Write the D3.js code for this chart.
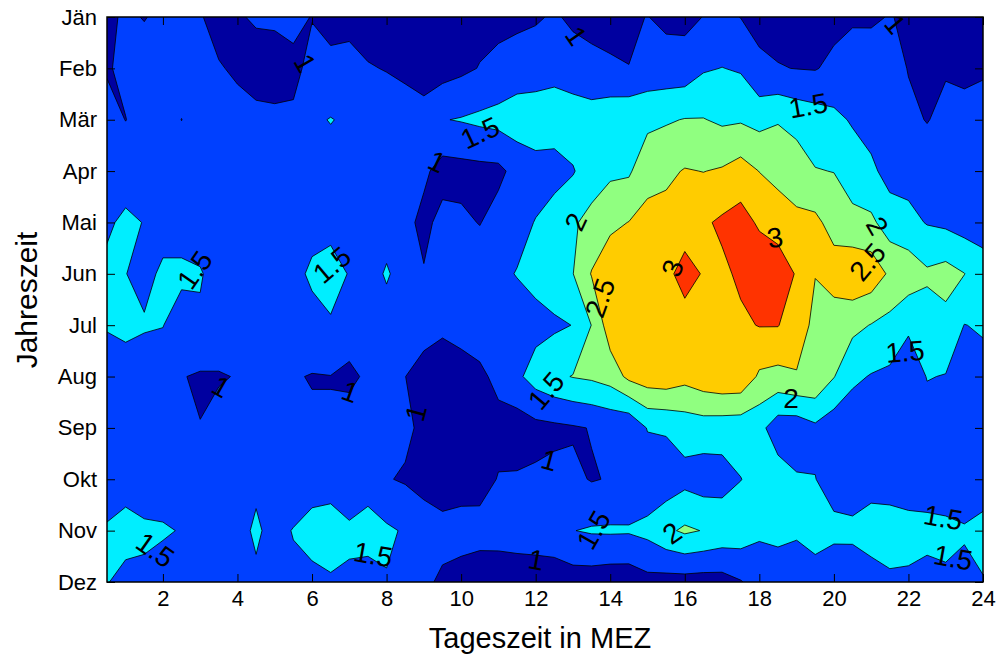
<!DOCTYPE html>
<html><head><meta charset="utf-8">
<script src="https://cdn.jsdelivr.net/npm/d3@7"></script>
<style>
body{margin:0;background:#fff}
svg{display:block}
text{font-family:"Liberation Sans",Arial,Helvetica,sans-serif}
</style>
</head><body>
<svg id="chart" width="998" height="657"></svg>
<script>
// ---- data ----
const months = ["Jän","Feb","Mär","Apr","Mai","Jun","Jul","Aug","Sep","Okt","Nov","Dez"];
const hours = [0.5,1,1.5,2,2.5,3,3.5,4,4.5,5,5.5,6,6.5,7,7.5,8,8.5,9,9.5,10,10.5,11,11.5,12,
               12.5,13,13.5,14,14.5,15,15.5,16,16.5,17,17.5,18,18.5,19,19.5,20,20.5,21,21.5,22,22.5,23,23.5,24];
const xTickValues = [2,4,6,8,10,12,14,16,18,20,22,24];
const levels = [1,1.5,2,2.5,3];
const levelColors = ["#0000A0","#0040FF","#00EEFF","#90FF80","#FFCC00","#FF3300"];

const jan = [0.9,1.07,0.98,1.1,1.15,1.02,0.9,0.96,1.05,1.08,1.15,0.98,0.85,0.8,0.8,0.8,
  0.8,0.8,0.8,0.85,0.85,0.85,0.88,0.95,1.05,0.92,0.88,0.85,0.94,1.01,0.9,0.88,
  1.01,1.1,0.99,0.9,0.85,0.85,0.85,0.85,0.92,0.94,1.02,0.93,0.8,0.8,0.8,0.8];
const feb = [0.95,1.12,1.2,1.2,1.2,1.15,1.02,0.96,0.82,0.78,0.86,1.16,1.12,1.22,1.03,0.98,
  0.9,0.85,0.8,0.9,1.02,1.14,1.25,1.25,1.3,1.2,1.11,1.06,1.005,1.2,1.2,1.21,
  1.45,1.51,1.45,1.07,1.02,0.99,0.97,1.12,1.3,1.22,1.2,0.98,0.85,0.96,0.9,0.95];
const mar = [1.2,0.99,1.2,1.2,0.995,1.2,1.25,1.09,1.11,1.1,1.09,1.42,1.52,1.42,1.3,1.25,
  1.23,1.13,1.48,1.53,1.6,1.66,1.75,1.8,1.85,1.8,1.75,1.85,1.9,1.87,1.95,2.02,
  2.02,1.92,1.95,1.85,1.97,1.84,1.75,1.62,1.45,1.3,1.25,1.1,0.98,1.12,1.15,1.17];
const apr = [1.3,1.35,1.3,1.25,1.25,1.25,1.3,1.25,1.25,1.25,1.25,1.3,1.3,1.3,1.25,1.2,
  1.2,1.1,0.8,0.83,0.86,0.88,1.17,1.3,1.23,1.46,1.8,1.9,1.93,2.35,2.4,2.53,
  2.49,2.55,2.71,2.49,2.3,2.25,2.02,1.99,1.76,1.6,1.32,1.3,1.25,1.25,1.2,1.25];
const mai = [1.455,1.56,1.49,1.3,1.3,1.25,1.25,1.25,1.25,1.25,1.25,1.3,1.38,1.25,1.25,1.3,
  1.15,0.86,1.16,1.1,0.98,1.2,1.35,1.52,1.84,1.95,2.12,2.4,2.51,2.63,2.67,2.87,
  2.93,3.08,3.19,2.93,2.85,2.61,2.62,2.3,2.14,2.1,1.75,1.65,1.47,1.4,1.28,1.3];
const jun = [1.565,1.51,1.35,1.59,1.59,1.54,1.3,1.3,1.35,1.3,1.33,1.6,1.65,1.48,1.3,1.55,
  1.3,1.035,1.2,1.25,1.31,1.4,1.52,1.65,1.8,1.99,2.53,2.8,2.85,2.9,2.93,3.1,
  2.98,2.91,3.08,3.34,3.2,2.97,2.51,2.75,2.89,2.8,2.42,2.3,2.08,2.19,2.01,1.7];
const jul = [1.55,1.6,1.55,1.51,1.3,1.43,1.43,1.3,1.3,1.3,1.3,1.3,1.46,1.12,1.25,1.3,
  1.2,1.2,1.1,1.2,1.2,1.25,1.27,1.34,1.42,1.51,2.01,2.78,2.7,2.8,2.85,2.89,
  2.9,2.95,2.92,3.02,3.02,2.7,2.4,2.2,2.13,1.98,1.85,1.58,1.76,1.84,1.49,1.55];
const aug = [1.17,1.3,1.22,1.3,1.02,0.95,0.95,1.03,1.3,1.3,1.03,0.98,0.99,0.95,1.04,1.25,
  1.005,0.8,0.7,0.77,0.92,1.1,1.4,1.71,1.9,2.02,2.08,2.21,2.62,2.77,2.81,2.66,
  2.81,2.9,2.88,2.42,2.35,2.47,2.44,2.02,1.6,1.47,1.4,1.2,1.52,1.48,1.3,1.35];
const sep = [1.25,1.3,1.3,1.3,1.25,1.01,1.2,1.2,1.25,1.25,1.2,1.06,1.03,1.11,1.2,1.05,
  1.1,0.89,0.8,0.8,0.8,0.88,0.75,0.86,0.9,0.95,1.02,1.1,1.05,1.53,1.56,1.7,
  1.75,1.72,1.7,1.65,1.22,1.2,1.4,1.2,1.18,1.2,1.2,1.2,1.3,1.3,1.3,1.3];
const okt = [1.3,1.3,1.3,1.3,1.3,1.25,1.25,1.25,1.42,1.25,1.2,1.25,1.3,1.3,1.3,1.03,
  0.95,0.9,0.8,0.8,0.85,1.02,1.05,1.07,1.12,1.1,0.97,1.03,1.1,1.15,1.2,1.35,
  1.25,1.3,1.49,1.65,1.75,1.55,1.51,1.3,1.3,1.3,1.3,1.3,1.3,1.3,1.3,1.3];
const nov = [1.54,1.67,1.56,1.54,1.48,1.3,1.3,1.37,1.56,1.37,1.52,1.7,1.72,1.55,1.68,1.58,
  1.45,1.15,1.12,1.18,1.14,1.15,1.2,1.2,1.25,1.49,1.55,1.56,1.55,1.64,1.9,2.08,
  1.98,1.85,1.79,1.58,1.65,1.58,1.7,1.62,1.58,1.73,1.7,1.63,1.61,1.58,1.53,1.62];
const dez = [1.52,1.37,1.43,1.33,1.3,1.3,1.3,1.3,1.43,1.3,1.41,1.36,1.45,1.46,1.32,1.47,
  1.3,1.07,0.94,0.82,0.78,0.77,0.75,0.78,0.77,0.76,0.75,0.7,0.7,0.85,0.81,0.8,
  0.78,0.8,0.97,1.2,1.18,1.15,1.27,1.16,1.28,1.28,1.43,1.44,1.38,1.45,1.42,1.48];

// contour labels: text, hour, month index, rotation
const labelText = ["1","1","1","1.5","1.5","1","2","1.5","1.5","3","3","2.5","2.5","2","1.5","2","1.5","1","1","1","1","1.5","1.5","1","1.5","2","1.5","1.5"];
const labelHour = [5.81,13.08,21.64,10.51,19.31,9.35,13.08,2.86,6.54,15.68,18.42,13.73,20.91,21.16,21.91,18.85,12.28,3.56,7.02,8.79,12.36,1.79,7.64,12.01,13.56,15.66,22.93,23.2];
const labelMonth = [0.9,0.37,0.14,2.26,1.73,2.82,3.99,4.93,4.83,4.89,4.3,5.47,4.77,4.07,6.52,7.42,7.28,7.2,7.3,7.71,8.63,10.38,10.47,10.57,9.99,10.05,9.75,10.53];
const labelRot = [60,55,50,-25,-10,25,-65,-55,-40,-70,-10,-70,-50,60,-5,0,-50,30,20,-75,15,35,10,10,-60,-35,10,10];

// ---- drawing ----
const L = 107, R = 983, T = 17, B = 582;
const svg = d3.select("#chart");

const rows = [jan,feb,mar,apr,mai,jun,jul,aug,sep,okt,nov,dez];
const nx = hours.length, ny = months.length;
const values = rows.flat();

const x = d3.scaleLinear().domain([hours[0], hours[nx-1]]).range([L, R]);
const yIdx = d3.scaleLinear().domain([0, ny-1]).range([T, B]);
const yBand = d3.scalePoint().domain(months).range([T, B]);
// grid coordinate -> data coordinate (d3.contours puts sample i at i+0.5)
const gx = d3.scaleLinear().domain([0.5, nx-0.5]).range([hours[0], hours[nx-1]]);
const gy = d3.scaleLinear().domain([0.5, ny-0.5]).range([0, ny-1]);

const proj = d3.geoTransform({point(px, py){ this.stream.point(x(gx(px)), yIdx(gy(py))); }});
const path = d3.geoPath(proj);

svg.append("defs").append("clipPath").attr("id","clip").append("rect")
  .attr("x",L).attr("y",T).attr("width",R-L).attr("height",B-T);

const plot = svg.append("g").attr("clip-path","url(#clip)");
plot.append("rect").attr("x",L).attr("y",T).attr("width",R-L).attr("height",B-T)
  .attr("fill",levelColors[0]);

const contours = d3.contours().size([nx, ny]).thresholds(levels)(values);
contours.forEach((c,i)=>{
  plot.append("path").attr("d", path(c))
    .attr("fill", levelColors[i+1])
    .attr("stroke","#000").attr("stroke-width",0.8).attr("stroke-linejoin","round");
});

// contour labels
const lab = svg.append("g").attr("clip-path","url(#clip)");
labelText.forEach((t,i)=>{
  const px = x(labelHour[i]), py = yIdx(labelMonth[i]);
  lab.append("text").attr("transform",`translate(${px},${py}) rotate(${labelRot[i]})`)
    .attr("text-anchor","middle").attr("dominant-baseline","central")
    .attr("font-size",28).attr("fill","#000").text(t);
});

// axes
function styleAxis(g){
  g.select(".domain").remove();
  g.selectAll(".tick line").attr("stroke","#000").attr("stroke-width",1);
  g.selectAll("text").attr("font-family",'"Liberation Sans",Arial,sans-serif').attr("font-size",22).attr("fill","#000");
}
svg.append("g").attr("transform",`translate(0,${B})`)
  .call(d3.axisBottom(x).tickValues(xTickValues).tickSize(-8).tickPadding(8).tickFormat(d3.format("d")))
  .call(styleAxis);
svg.append("g").attr("transform",`translate(0,${T})`)
  .call(d3.axisTop(x).tickValues(xTickValues).tickSize(-8).tickFormat(""))
  .call(styleAxis);
svg.append("g").attr("transform",`translate(${L},0)`)
  .call(d3.axisLeft(yBand).tickSize(-8).tickPadding(10))
  .call(styleAxis);
svg.append("g").attr("transform",`translate(${R},0)`)
  .call(d3.axisRight(yBand).tickSize(-8).tickFormat(""))
  .call(styleAxis);

svg.append("rect").attr("x",L).attr("y",T).attr("width",R-L).attr("height",B-T)
  .attr("fill","none").attr("stroke","#000").attr("stroke-width",1.5);

svg.append("text").attr("x",540).attr("y",648).attr("text-anchor","middle")
  .attr("font-size",29).attr("fill","#000").text("Tageszeit in MEZ");
svg.append("text").attr("transform",`translate(37,300) rotate(-90)`).attr("text-anchor","middle")
  .attr("font-size",30).attr("fill","#000").text("Jahreszeit");
</script>
</body></html>
